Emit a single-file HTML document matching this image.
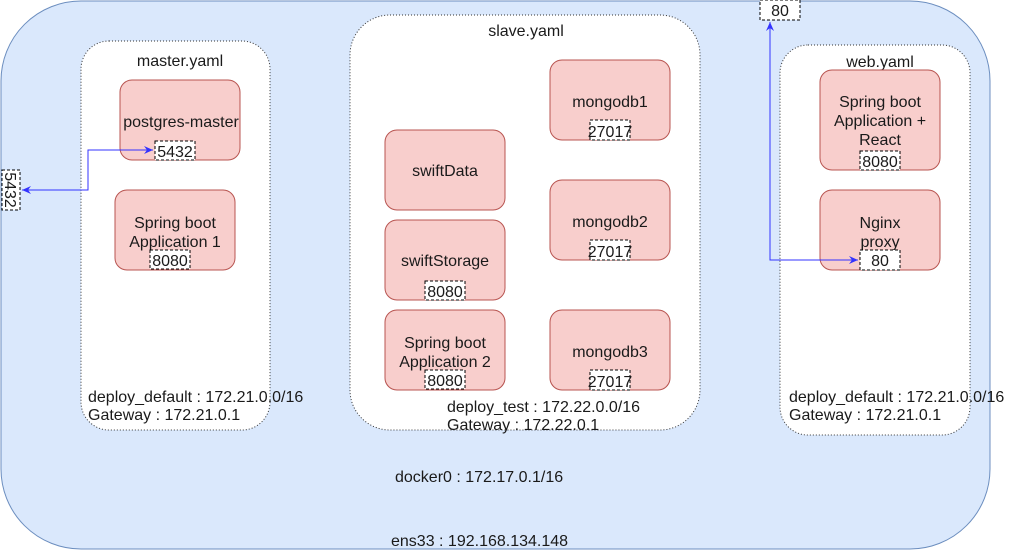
<!DOCTYPE html>
<html><head><meta charset="utf-8"><style>
html,body{margin:0;padding:0;background:#fff;}
svg{display:block;}
text{font-family:"Liberation Sans",sans-serif;font-size:16px;fill:#1a1a1a;}
.n{fill:#f8cecc;stroke:#b85450;stroke-width:1;}
.c{fill:#fff;stroke:#333;stroke-width:1;stroke-dasharray:1,2;}
.p{fill:#fff;stroke:#000;stroke-width:1;stroke-dasharray:3,2;}
</style></head><body>
<svg width="1018" height="551" viewBox="0 0 1018 551" xmlns="http://www.w3.org/2000/svg">
<defs><marker id="a" markerWidth="10" markerHeight="10" refX="9" refY="5" orient="auto" markerUnits="userSpaceOnUse"><path d="M0,1 L9,5 L0,9 L3,5 Z" fill="#3333ff"/></marker>
<marker id="b" markerWidth="10" markerHeight="10" refX="1" refY="5" orient="auto" markerUnits="userSpaceOnUse"><path d="M10,1 L1,5 L10,9 L7,5 Z" fill="#3333ff"/></marker></defs>
<rect x="1" y="1" width="989" height="548" rx="80" fill="#dae8fc" stroke="#6c8ebf"/>
<rect class="c" x="81" y="41" width="189" height="389" rx="28"/>
<rect class="c" x="350" y="15" width="350" height="415" rx="40"/>
<rect class="c" x="780" y="45" width="190" height="390" rx="28"/>
<text x="180" y="66" text-anchor="middle">master.yaml</text>
<text x="526" y="36" text-anchor="middle">slave.yaml</text>
<text x="880" y="67" text-anchor="middle">web.yaml</text>
<rect class="n" x="120" y="80" width="120" height="80" rx="12"/>
<text x="181" y="127" text-anchor="middle">postgres-master</text>
<rect class="n" x="115" y="190" width="120" height="80" rx="12"/>
<text x="175" y="228" text-anchor="middle">Spring boot</text>
<text x="175" y="247" text-anchor="middle">Application 1</text>
<rect class="n" x="385" y="130" width="120" height="80" rx="12"/>
<text x="445" y="176" text-anchor="middle">swiftData</text>
<rect class="n" x="385" y="220" width="120" height="80" rx="12"/>
<text x="445" y="266" text-anchor="middle">swiftStorage</text>
<rect class="n" x="385" y="310" width="120" height="80" rx="12"/>
<text x="445" y="348" text-anchor="middle">Spring boot</text>
<text x="445" y="367" text-anchor="middle">Application 2</text>
<rect class="n" x="550" y="60" width="120" height="80" rx="12"/>
<text x="610" y="107" text-anchor="middle">mongodb1</text>
<rect class="n" x="550" y="180" width="120" height="80" rx="12"/>
<text x="610" y="227" text-anchor="middle">mongodb2</text>
<rect class="n" x="550" y="310" width="120" height="80" rx="12"/>
<text x="610" y="357" text-anchor="middle">mongodb3</text>
<rect class="n" x="820" y="70" width="120" height="100" rx="12"/>
<text x="880" y="107" text-anchor="middle">Spring boot</text>
<text x="880" y="126" text-anchor="middle">Application +</text>
<text x="880" y="145" text-anchor="middle">React</text>
<rect class="n" x="820" y="190" width="120" height="80" rx="12"/>
<text x="880" y="228" text-anchor="middle">Nginx</text>
<text x="880" y="247" text-anchor="middle">proxy</text>
<rect class="p" x="155" y="141" width="40" height="19"/><text x="175" y="157" text-anchor="middle">5432</text>
<rect class="p" x="150" y="250" width="40" height="19"/><text x="170" y="266" text-anchor="middle">8080</text>
<rect class="p" x="425" y="281" width="40" height="19"/><text x="445" y="297" text-anchor="middle">8080</text>
<rect class="p" x="425" y="370" width="40" height="19"/><text x="445" y="386" text-anchor="middle">8080</text>
<rect class="p" x="590" y="120" width="40" height="20"/><text x="610" y="137" text-anchor="middle">27017</text>
<rect class="p" x="590" y="240" width="40" height="20"/><text x="610" y="257" text-anchor="middle">27017</text>
<rect class="p" x="590" y="370" width="40" height="20"/><text x="610" y="387" text-anchor="middle">27017</text>
<rect class="p" x="860" y="151" width="40" height="19"/><text x="880" y="167" text-anchor="middle">8080</text>
<rect class="p" x="860" y="250" width="40" height="20"/><text x="880" y="266" text-anchor="middle">80</text>
<rect class="p" x="760" y="0" width="40" height="20"/><text x="780" y="16" text-anchor="middle">80</text>
<rect class="p" x="2" y="170" width="18" height="40"/>
<text x="0" y="0" text-anchor="middle" transform="translate(5,190) rotate(90)">5432</text>
<path d="M22,190 L88,190 L88,150 L153,150" fill="none" stroke="#3333ff" stroke-width="1" marker-start="url(#b)" marker-end="url(#a)"/>
<path d="M770,22 L770,260 L858,260" fill="none" stroke="#3333ff" stroke-width="1" marker-start="url(#b)" marker-end="url(#a)"/>
<text x="88" y="402">deploy_default : 172.21.0.0/16</text>
<text x="88" y="420">Gateway : 172.21.0.1</text>
<text x="447" y="412">deploy_test : 172.22.0.0/16</text>
<text x="447" y="430">Gateway : 172.22.0.1</text>
<text x="789" y="402">deploy_default : 172.21.0.0/16</text>
<text x="789" y="420">Gateway : 172.21.0.1</text>
<text x="395" y="482">docker0 : 172.17.0.1/16</text>
<text x="391" y="546">ens33 : 192.168.134.148</text>
</svg>
</body></html>
